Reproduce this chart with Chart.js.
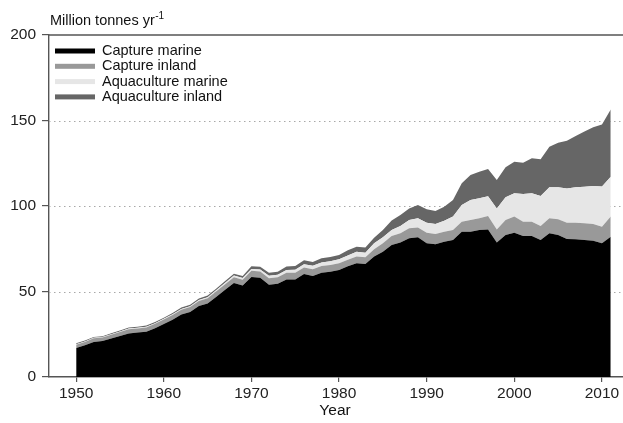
<!DOCTYPE html>
<html><head><meta charset="utf-8">
<script src="https://cdn.jsdelivr.net/npm/chart.js@4/dist/chart.umd.min.js"></script>
<style>html,body{margin:0;padding:0;background:#fff;}canvas{display:block;}</style>
</head><body>
<canvas id="c" width="623" height="423"></canvas>
<script>
const years = [1950,1951,1952,1953,1954,1955,1956,1957,1958,1959,
1960,1961,1962,1963,1964,1965,1966,1967,1968,1969,
1970,1971,1972,1973,1974,1975,1976,1977,1978,1979,
1980,1981,1982,1983,1984,1985,1986,1987,1988,1989,
1990,1991,1992,1993,1994,1995,1996,1997,1998,1999,
2000,2001,2002,2003,2004,2005,2006,2007,2008,2009,
2010,2011];
const captureMarine = [17.0,18.5,20.5,21.0,22.5,24.0,25.5,26.0,26.5,28.5,
31.0,33.5,36.5,38.0,41.5,43.0,47.0,51.0,55.0,53.5,
58.5,58.0,54.0,54.5,57.0,57.0,60.2,59.1,61.0,61.6,
62.6,64.8,66.5,66.1,70.4,73.3,77.2,78.6,81.1,81.7,
78.2,77.6,79.1,80.1,85.0,85.0,86.0,86.3,78.6,83.0,
84.4,82.5,82.5,80.1,84.0,83.0,80.7,80.5,80.1,79.7,
78.2,82.0];
const captureInland = [1.9,2.0,2.1,2.1,2.2,2.3,2.4,2.4,2.5,2.6,
2.6,2.7,2.8,2.9,3.0,3.1,3.2,3.3,3.4,3.4,
3.6,3.7,3.8,3.8,3.9,3.9,3.9,3.9,3.9,3.9,
3.9,3.8,3.9,3.9,4.3,4.9,5.3,5.4,5.9,5.8,
6.2,6.0,5.9,5.9,5.8,6.8,6.8,7.9,7.7,8.8,
9.4,8.3,8.3,8.2,8.8,9.2,9.5,9.7,9.8,9.8,
9.7,11.8];
const aquacultureMarine = [0.3,0.3,0.3,0.3,0.3,0.3,0.4,0.4,0.4,0.4,
0.4,0.5,0.5,0.5,0.6,0.6,0.7,0.8,0.9,1.0,
1.1,1.2,1.4,1.5,1.7,1.8,1.9,2.0,2.1,2.2,
2.3,2.5,2.9,2.7,3.5,3.5,3.5,4.3,4.8,5.3,
5.8,5.9,6.4,7.8,9.8,11.7,11.8,11.5,12.3,13.3,
13.6,16.2,16.6,17.5,18.1,18.7,20.1,20.7,21.4,22.2,
23.5,23.3];
const aquacultureInland = [0.5,0.5,0.5,0.5,0.6,0.6,0.6,0.6,0.7,0.7,
0.7,0.7,0.8,0.8,0.8,0.9,0.9,1.0,1.1,1.2,
1.5,1.6,1.7,1.8,2.0,2.2,2.3,2.3,2.4,2.5,
2.5,3.0,2.9,3.1,3.3,4.2,5.5,6.4,6.8,7.8,
7.9,7.6,8.2,9.7,12.7,14.6,15.5,16.0,16.6,17.5,
18.5,18.3,20.5,21.5,23.8,26.1,27.9,30.0,32.2,34.3,
36.2,39.3];
const seriesNames = ['Capture marine','Capture inland','Aquaculture marine','Aquaculture inland'];
const seriesColors = ['#000000','#999999','#e6e6e6','#666666'];
const xTicks = [1950,1960,1970,1980,1990,2000,2010];
const yTicks = [0,50,100,150,200];
const gridValues = [50,100,150];
const yTitle = 'Million tonnes yr';
const yTitleSup = '-1';
const xTitle = 'Year';

const FONT = 'Liberation Sans, Arial, Helvetica, sans-serif';
const seriesValues = [captureMarine, captureInland, aquacultureMarine, aquacultureInland];

const datasets = seriesValues.map((vals, i) => ({
  label: seriesNames[i],
  data: years.map((yr, j) => ({x: yr, y: vals[j]})),
  backgroundColor: seriesColors[i],
  borderColor: seriesColors[i],
  borderWidth: 0,
  pointRadius: 0,
  tension: 0,
  fill: i === 0 ? 'origin' : '-1'
}));

const decor = {
  id: 'decor',
  beforeDatasetsDraw(chart) {
    const {ctx, chartArea: a, scales: {y}} = chart;
    ctx.save();
    ctx.strokeStyle = '#a8a8a8';
    ctx.lineWidth = 1;
    ctx.setLineDash([1.5, 3.5]);
    gridValues.forEach(v => {
      const py = Math.round(y.getPixelForValue(v)) + 0.5;
      ctx.beginPath(); ctx.moveTo(a.left, py); ctx.lineTo(a.right, py); ctx.stroke();
    });
    ctx.restore();
  },
  afterDraw(chart) {
    const {ctx, chartArea: a, scales: {x, y}} = chart;
    ctx.save();
    // top frame line
    const ty = y.getPixelForValue(200);
    ctx.strokeStyle = '#555'; ctx.lineWidth = 1.6;
    ctx.beginPath(); ctx.moveTo(a.left, ty); ctx.lineTo(chart.width, ty); ctx.stroke();
    // legend
    ctx.font = '14.5px ' + FONT;
    ctx.textBaseline = 'middle';
    ctx.textAlign = 'left';
    seriesNames.forEach((name, i) => {
      const cy = 51 + i * 15.3;
      ctx.fillStyle = seriesColors[i];
      ctx.fillRect(55, cy - 2.5, 40, 5);
      ctx.fillStyle = '#111';
      ctx.fillText(name, 102, cy);
    });
    // y title
    ctx.font = '14.5px ' + FONT;
    ctx.textBaseline = 'alphabetic';
    ctx.fillStyle = '#111';
    ctx.fillText(yTitle, 50, 25);
    const w = ctx.measureText(yTitle).width;
    ctx.font = '10px ' + FONT;
    ctx.fillText(yTitleSup, 50 + w + 0.5, 19);
    // x title
    ctx.font = '15.5px ' + FONT;
    ctx.textAlign = 'center';
    ctx.textBaseline = 'middle';
    ctx.fillText(xTitle, 335, 411);
    ctx.restore();
  }
};

new Chart(document.getElementById('c'), {
  type: 'line',
  data: {datasets},
  plugins: [decor],
  options: {
    responsive: false,
    animation: false,
    devicePixelRatio: 1,
    layout: {padding: {top: 35, right: 0, left: 0, bottom: 0}},
    plugins: {legend: {display: false}, tooltip: {enabled: false}},
    elements: {line: {borderWidth: 0}},
    scales: {
      x: {
        type: 'linear', min: 1946.9, max: 2012.4,
        afterBuildTicks: s => { s.ticks = xTicks.map(v => ({value: v})); },
        ticks: {callback: v => String(v), color: '#222', font: {size: 15.5, family: FONT}, padding: 2, maxRotation: 0, autoSkip: false},
        grid: {drawOnChartArea: false, drawTicks: true, tickLength: 5, color: '#555', lineWidth: 1.2},
        border: {display: true, color: '#555', width: 1.4},
        afterFit: s => { s.height = 46; s.paddingLeft = 0; s.paddingRight = 0; }
      },
      y: {
        stacked: true, min: 0, max: 200,
        afterBuildTicks: s => { s.ticks = yTicks.map(v => ({value: v})); },
        ticks: {color: '#222', font: {size: 15.5, family: FONT}, padding: 6},
        grid: {drawOnChartArea: false, drawTicks: true, tickLength: 7, color: '#555', lineWidth: 1.2},
        border: {display: true, color: '#555', width: 1.4},
        afterFit: s => { s.width = 49; s.paddingTop = 0; s.paddingBottom = 0; }
      }
    }
  }
});
</script>
</body></html>
